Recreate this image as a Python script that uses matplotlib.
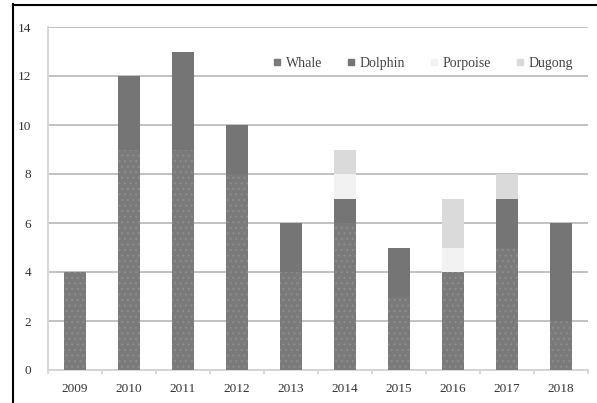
import matplotlib
matplotlib.use('Agg')
import matplotlib.pyplot as plt
from matplotlib.lines import Line2D
import numpy as np

years = ['2009', '2010', '2011', '2012', '2013', '2014', '2015', '2016', '2017', '2018']
whale = [4, 9, 9, 8, 4, 6, 3, 4, 5, 2]
dolphin = [0, 3, 4, 2, 2, 1, 2, 0, 2, 4]
porpoise = [0, 0, 0, 0, 0, 1, 0, 1, 0, 0]
dugong = [0, 0, 0, 0, 0, 1, 0, 2, 1, 0]
yticks = [0, 2, 4, 6, 8, 10, 12, 14]

plt.rcParams['font.family'] = ['Liberation Serif', 'DejaVu Serif']
plt.rcParams['hatch.linewidth'] = 0.8

fig = plt.figure(figsize=(5.97, 4.03), dpi=100)
ax = fig.add_axes([48 / 597, 1 - 370 / 403, 540 / 597, 343 / 403])

x = np.arange(len(years))
w = 0.41
bottom = np.zeros(len(years))

series = [
    ('Whale', whale, '#7a7a7a', '...'),
    ('Dolphin', dolphin, '#757575', None),
    ('Porpoise', porpoise, '#f2f2f2', None),
    ('Dugong', dugong, '#dadada', None),
]
for name, vals, color, hatch in series:
    vals = np.array(vals)
    ax.bar(x, vals, w, bottom=bottom, color=color, edgecolor='#8c8c8c' if hatch else color,
           hatch=hatch, linewidth=0, zorder=3, label=name)
    bottom += vals

ax.set_xlim(-0.5, len(years) - 0.5)
ax.set_ylim(0, 14)
ax.set_yticks(yticks)
ax.set_xticks(x)
ax.set_xticklabels(years)
ax.grid(axis='y', color='#bdbdbd', linewidth=1.3, zorder=0)
for s in ['top', 'right']:
    ax.spines[s].set_visible(False)
for s in ['left', 'bottom']:
    ax.spines[s].set_color('#d4d4d4')
    ax.spines[s].set_linewidth(1.3)
ax.tick_params(axis='y', length=0, labelsize=9.5, colors='#333333', pad=12)
ax.tick_params(axis='x', length=0, labelsize=9.5, colors='#333333', pad=9)
# small tick marks between categories
ax.set_xticks(np.arange(len(years) + 1) - 0.5, minor=True)
ax.tick_params(axis='x', which='minor', length=3, color='#d4d4d4', width=1.2)

leg = ax.legend(handles=[Line2D([], [], marker='s', linestyle='none', markersize=5,
                                markerfacecolor=c, markeredgecolor=c) for _, _, c, _ in series],
                labels=[n for n, _, _, _ in series], ncol=4, frameon=False,
                loc='upper right', bbox_to_anchor=(0.995, 0.95), fontsize=10,
                handletextpad=0.1, columnspacing=1.6, handlelength=1.0)
for t in leg.get_texts():
    t.set_color('#444444')

# partial black frame
fig.add_artist(Line2D([13 / 597, 13 / 597], [0, 1 - 4 / 403], color='black', linewidth=1.5, transform=fig.transFigure))
fig.add_artist(Line2D([13 / 597, 1], [1 - 5 / 403, 1 - 5 / 403], color='black', linewidth=1.5, transform=fig.transFigure))

fig.savefig('out.png', dpi=100)
